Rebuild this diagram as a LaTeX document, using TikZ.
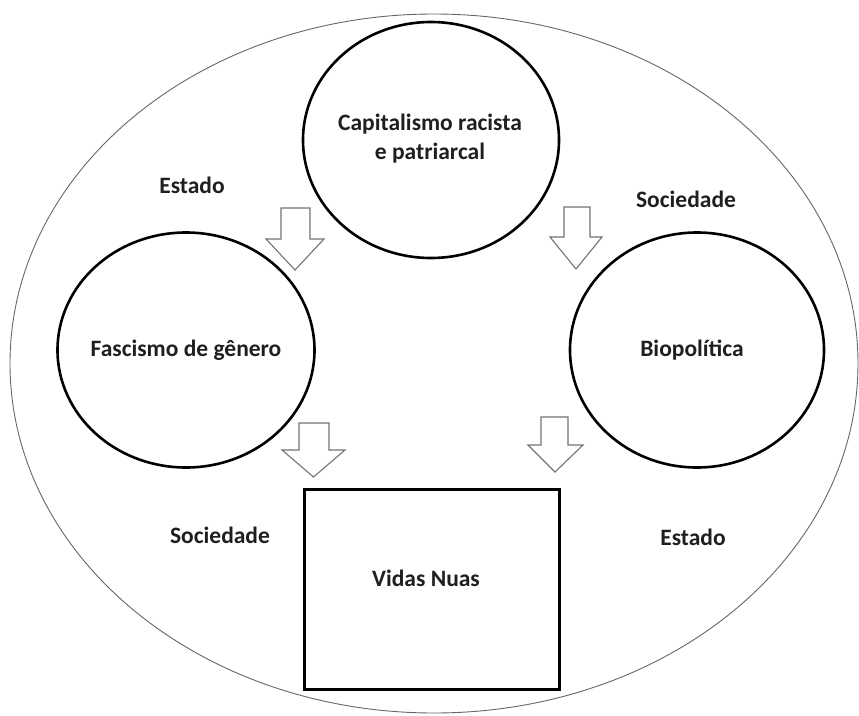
\documentclass[tikz,border=0pt]{standalone}
\usepackage{fontspec}
\setmainfont{Carlito}
\usetikzlibrary{shapes.geometric}
\begin{document}
\begin{tikzpicture}[x=1pt,y=-1pt,
  bub/.style={ellipse,draw,line width=2.6pt,inner sep=0pt},
  lbl/.style={font=\fontsize{23.5}{29}\selectfont\bfseries, text=black!88, align=center, inner sep=0pt},
  blk/.style={draw=black!55,line width=1.1pt,fill=white,line join=miter}]
\useasboundingbox (0,0) rectangle (859,715);
\node[ellipse,draw=black!60,line width=0.9pt,minimum width=848pt,minimum height=699pt,inner sep=0pt] (outer) at (434,363.5) {};
\node[bub,minimum width=256pt,minimum height=236pt] (cap) at (431,140) {};
\node[bub,minimum width=257pt,minimum height=235pt] (fas) at (186,350) {};
\node[bub,minimum width=254pt,minimum height=235pt] (bio) at (697,350) {};
\node[draw,line width=3pt,minimum width=255pt,minimum height=200pt,inner sep=0pt] (vid) at (431.5,589) {};
\node[lbl] (capt) at (430,139) {Capitalismo racista\\e patriarcal};
\node[lbl] (fast) at (186,350) {Fascismo de gênero};
\node[lbl] (biot) at (692,350) {Biopolítica};
\node[lbl] (vidt) at (426,578) {Vidas Nuas};
\node[lbl] (est1) at (192,185) {Estado};
\node[lbl] (soc1) at (686,199) {Sociedade};
\node[lbl] (soc2) at (220,535) {Sociedade};
\node[lbl] (est2) at (693,537) {Estado};
% block arrows
\draw[blk] (281,208) -- (310,208) -- (310,239) -- (324,239) -- (295,270) -- (266,239) -- (281,239) -- cycle;
\draw[blk] (564,207) -- (590,207) -- (590,237) -- (602,237) -- (576,269) -- (550,237) -- (564,237) -- cycle;
\draw[blk] (299,423) -- (329,423) -- (329,450) -- (345,450) -- (313.5,477) -- (282,450) -- (299,450) -- cycle;
\draw[blk] (541,417) -- (568,417) -- (568,445) -- (583,445) -- (555,472) -- (528,445) -- (541,445) -- cycle;
\end{tikzpicture}
\end{document}
